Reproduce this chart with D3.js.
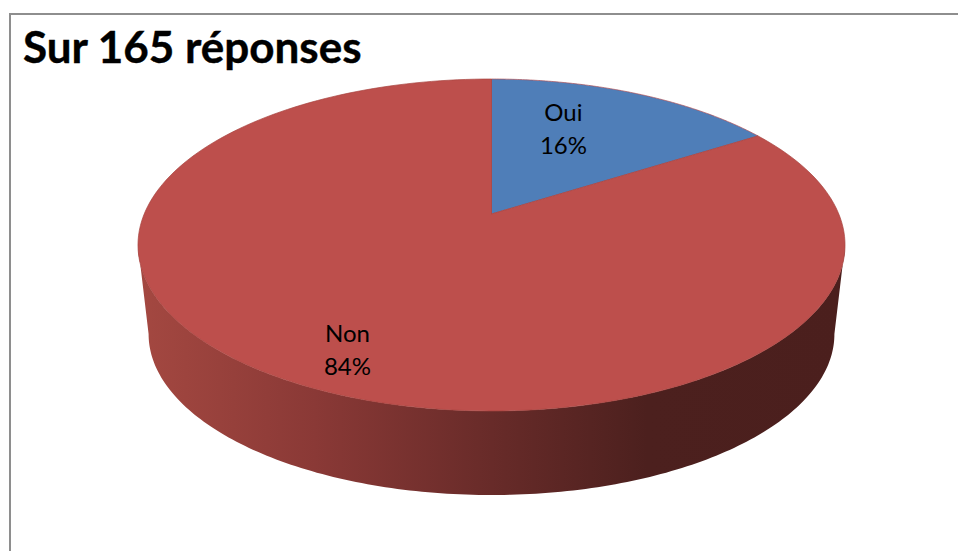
<!DOCTYPE html>
<html><head><meta charset="utf-8">
<script src="https://cdn.jsdelivr.net/npm/d3@7/dist/d3.min.js"></script>
<style>html,body{margin:0;padding:0;background:#fff}svg{display:block}</style>
</head><body><svg id="c" width="958" height="551"></svg>
<script>
const categories = ["Oui", "Non"];
const values = [16, 84];
const percentLabels = ["16%", "84%"];
const title = "Sur 165 réponses";
const colors = ["#4f7eb8", "#bd4f4c"];

const W = 958, H = 551;
const svg = d3.select("#c");
const K = 0.1867, A = 160.2, B = 347.3;
const topApex = [491.5, 214], botApex = [491.5, 304], botScale = 0.97;
const project = (theta, r, apex, s) => {
  const u = r * Math.sin(theta), v = r * Math.cos(theta), w = 1 + K * v;
  return [apex[0] + s * B * u / w, apex[1] - s * A * v / w];
};
const topPt = (t, r = 1) => project(t, r, topApex, 1);
const botPt = (t, r = 1) => project(t, r, botApex, botScale);
const sample = (a, b, n = 180) => d3.range(n + 1).map(i => a + (b - a) * i / n);
const line = d3.line();

const pie = d3.pie().sort(null).value(d => d)(values);
const defs = svg.append("defs");
const grad = defs.append("linearGradient").attr("id", "side").attr("gradientUnits", "userSpaceOnUse")
  .attr("x1", 138).attr("x2", 845).attr("y1", 0).attr("y2", 0);
[[0, "#a44841"], [0.25, "#8a3936"], [0.5, "#682b29"], [0.72, "#4c201e"], [1, "#4b1f1d"]]
  .forEach(s => grad.append("stop").attr("offset", s[0]).attr("stop-color", s[1]));

// outer frame
svg.append("path").attr("d", `M10,${H}V14H${W}`).attr("fill", "none").attr("stroke", "#8e8e8e").attr("stroke-width", 2);

// extrusion of the visible front rim
const edge = Math.acos(-K);
const side = sample(edge, 2 * Math.PI - edge).map(t => botPt(t))
  .concat(sample(2 * Math.PI - edge, edge).map(t => topPt(t)));
svg.append("path").attr("d", line(side) + "Z").attr("fill", "url(#side)");

// top face
svg.selectAll("path.slice").data(pie).join("path").attr("class", "slice")
  .attr("d", d => line([topPt(0, 0)].concat(sample(d.startAngle, d.endAngle).map(t => topPt(t)))) + "Z")
  .attr("fill", (d, i) => colors[i])
  .attr("stroke", (d, i) => i ? "#a8443f" : "#b04f55").attr("stroke-width", 0.7).attr("stroke-linejoin", "round");

svg.append("text").text(title).attr("x", 23).attr("y", 63)
  .attr("font-family", "Lato").attr("font-weight", 700).attr("font-size", 44)
  .attr("fill", "#000").attr("stroke", "#000").attr("stroke-width", 0.4);

const labelPos = [[0.50, 0.64, -25, -4], [0.5, 0.8, 10, 7]];
pie.forEach((d, i) => {
  const mid = (d.startAngle + d.endAngle) / 2;
  const p = topPt(mid, labelPos[i][1]);
  const x = p[0] + labelPos[i][2];
  const t = svg.append("text").attr("x", x).attr("y", p[1] - 8 + labelPos[i][3]).attr("text-anchor", "middle")
    .attr("font-family", "Lato").attr("font-size", 24).attr("fill", "#000");
  t.append("tspan").text(categories[i]);
  t.append("tspan").text(percentLabels[i]).attr("x", x).attr("dy", 33);
});
</script></body></html>
